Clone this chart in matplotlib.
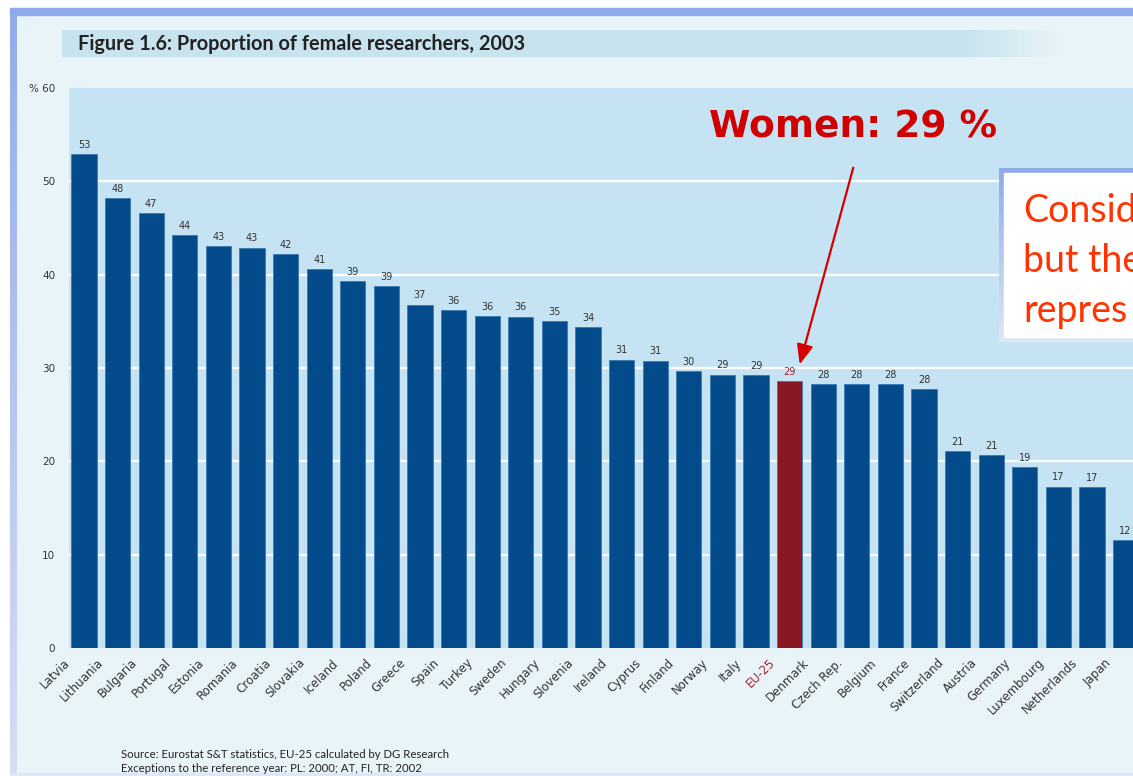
import numpy as np
import matplotlib
matplotlib.use("Agg")
import matplotlib.pyplot as plt
import matplotlib.transforms as mtransforms
from matplotlib.patches import Rectangle

# proportion of female researchers, 2003 (%)
countries = ["Latvia", "Lithuania", "Bulgaria", "Portugal", "Estonia", "Romania",
             "Croatia", "Slovakia", "Iceland", "Poland", "Greece", "Spain", "Turkey",
             "Sweden", "Hungary", "Slovenia", "Ireland", "Cyprus", "Finland", "Norway",
             "Italy", "EU-25", "Denmark", "Czech Rep.", "Belgium", "France",
             "Switzerland", "Austria", "Germany", "Luxembourg", "Netherlands", "Japan"]
values = [52.9, 48.2, 46.6, 44.2, 43.1, 42.9, 42.2, 40.6, 39.3, 38.8, 36.8, 36.2, 35.6,
          35.5, 35.0, 34.4, 30.9, 30.8, 29.7, 29.3, 29.2, 28.6, 28.3, 28.3, 28.3, 27.7,
          21.1, 20.7, 19.4, 17.3, 17.2, 11.6]
highlight = "EU-25"
yticks = [0, 10, 20, 30, 40, 50, 60]
ytick_labels = ["0", "10", "20", "30", "40", "50", "% 60"]
note_lines = ["Consid", "but the", "repres"]

W, H = 1133, 776
BAR = "#034b8b"
RED = "#8a1824"

fig = plt.figure(figsize=(W / 100, H / 100), dpi=100)
fig.patch.set_facecolor("white")


def pixel_axes():
    a = fig.add_axes([0, 0, 1, 1])
    a.set_xlim(0, W)
    a.set_ylim(H, 0)
    a.axis("off")
    a.patch.set_alpha(0)
    return a


# background layer in pixel coordinates
bg = pixel_axes()
bg.add_patch(Rectangle((10, 8), W, H - 10, color="#e9f4f9", zorder=0))
bg.add_patch(Rectangle((10, 8), W, 7, color="#8eaaec", zorder=1))
strip = np.linspace(0, 1, 256).reshape(-1, 1)
cm_strip = matplotlib.colors.LinearSegmentedColormap.from_list("s", ["#93ade9", "#d6def5"])
bg.imshow(strip, cmap=cm_strip, extent=(10, 17, H - 2, 15), aspect="auto", zorder=1)
bg.add_patch(Rectangle((10, H - 3), W, 3, color="#dde7f5", zorder=1))

# title band fading out to the right
band = np.concatenate([np.zeros(230), np.linspace(0, 1, 26)]).reshape(1, -1)
cm_band = matplotlib.colors.LinearSegmentedColormap.from_list("b", ["#c7e3ee", "#e9f4f9"])
bg.imshow(band, cmap=cm_band, extent=(62, 1065, 57, 30), aspect="auto", zorder=1)
bg.text(78, 44, "Figure 1.6: Proportion of female researchers, 2003", fontsize=14.3,
        fontfamily="Lato", fontweight="bold", color="#222222", va="center", zorder=2)

bg.text(121, 755, "Source: Eurostat S&T statistics, EU-25 calculated by DG Research",
        fontsize=8.2, fontfamily="Lato", color="#222222", va="center")
bg.text(121, 769, "Exceptions to the reference year: PL: 2000; AT, FI, TR: 2002",
        fontsize=8.2, fontfamily="Lato", color="#222222", va="center")

# main chart
ax = fig.add_axes([69 / W, 1 - 648 / H, (W - 69) / W, (648 - 88) / H])
ax.set_facecolor("#c5e3f3")
x = np.arange(len(countries))
colors = [RED if c == highlight else BAR for c in countries]
ax.bar(x, values, width=0.745, color=colors, edgecolor="#3b7ab3",
       linewidth=0.6, zorder=3)
for xi, v, c in zip(x, values, countries):
    ax.annotate(f"{v:.0f}", (xi, v), xytext=(0, 3), textcoords="offset points",
                ha="center", va="bottom", fontsize=7,
                color="#a02438" if c == highlight else "#333333", zorder=4)

ax.set_xlim(-0.446, 31.22)
ax.set_ylim(0, 60)
ax.set_yticks(yticks)
ax.set_yticklabels(ytick_labels, fontsize=7.5, color="#333333")
for y in yticks[1:-1]:
    ax.axhline(y, color="white", linewidth=1.6, zorder=1)
ax.tick_params(axis="y", length=0, pad=10)
ax.tick_params(axis="x", length=0, pad=2)
ax.set_xticks(x)
ax.set_xticklabels(countries, rotation=45, ha="right", va="top",
                   rotation_mode="anchor", fontsize=8.5, color="#333333")
shift = mtransforms.ScaledTranslation(-15 / 72, -4 / 72, fig.dpi_scale_trans)
for lbl, c in zip(ax.get_xticklabels(), countries):
    lbl.set_transform(lbl.get_transform() + shift)
    if c == highlight:
        lbl.set_color("#a02438")
for s in ax.spines.values():
    s.set_visible(False)

# overlay: callout and side note
top = pixel_axes()
top.text(853, 128, "Women: 29 %", fontsize=27, fontweight="bold", color="#d00000",
         ha="center", va="center", zorder=6)
top.annotate("", xy=(799, 367), xytext=(854, 165),
             arrowprops=dict(arrowstyle="-|>,head_width=0.5,head_length=1.2",
                             color="#d40000", lw=1.6), zorder=6)

edge = np.linspace(0, 1, 256).reshape(-1, 1)
cm_edge = matplotlib.colors.LinearSegmentedColormap.from_list("e", ["#8faaea", "#dfe6f6"])
top.imshow(edge, cmap=cm_edge, extent=(999, W + 10, 342, 168), aspect="auto", zorder=6)
top.add_patch(Rectangle((1004, 173), 200, 164, color="white", zorder=7))
for yy, line in zip([222, 272, 322], note_lines):
    top.text(1023, yy, line, fontsize=27, fontfamily="Lato", color="#ff3300",
             va="baseline", zorder=8)
top.set_xlim(0, W)
top.set_ylim(H, 0)

fig.savefig("out.png", dpi=100)
